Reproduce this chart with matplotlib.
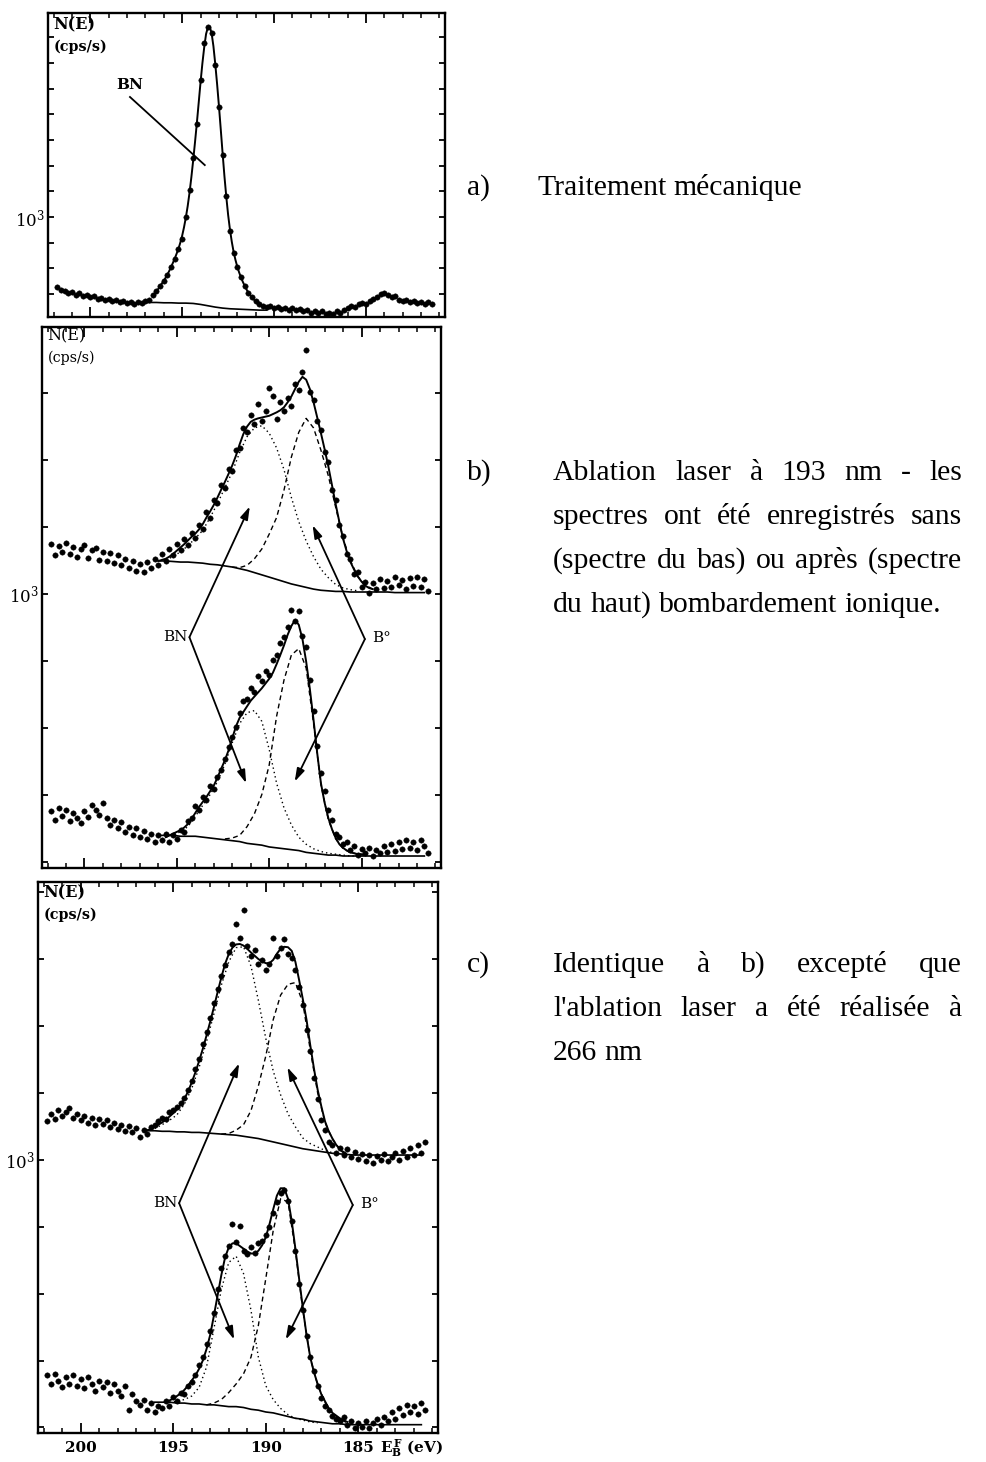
import numpy as np
import matplotlib
matplotlib.use("Agg")
import matplotlib.pyplot as plt
from matplotlib.ticker import FixedLocator, NullLocator, MultipleLocator, NullFormatter, FuncFormatter

plt.rcParams['mathtext.fontset'] = 'dejavuserif'

# ---------------- data (binding energy in eV, intensity in cps) ----------------
# energy sampling: start energy, step (eV)
DATA_START, DATA_STEP = 201.8, 0.2

# ---- panel a : mechanical treatment ----
a_data = [730, 722, 718, 712, 716, 706, 710, 702, 706, 698,
          702, 694, 697, 690, 693, 686, 690, 683, 687, 680,
          684, 678, 682, 680, 686, 690, 705, 718, 735, 752,
          770, 800, 830, 865, 905, 1000, 1130, 1300, 1520, 1850,
          2180, 2345, 2280, 1980, 1640, 1320, 1100, 940, 850, 800,
          765, 735, 712, 698, 685, 676, 670, 668, 672, 665,
          668, 663, 666, 660, 664, 658, 662, 655, 660, 652,
          657, 650, 655, 648, 652, 648, 655, 650, 660, 664,
          670, 668, 676, 680, 678, 686, 692, 700, 708, 712,
          705, 698, 702, 690, 686, 690, 682, 686, 680, 684,
          678, 682, 676]
a_fit_start, a_fit_step = 196.6, 0.1
a_fit = [700, 708, 716, 725, 734, 743, 752, 762, 773, 786,
         800, 815, 831, 849, 868, 892, 920, 955, 998, 1050,
         1115, 1195, 1290, 1400, 1525, 1670, 1830, 1990, 2140, 2270,
         2340, 2345, 2280, 2150, 1985, 1815, 1645, 1480, 1330, 1200,
         1095, 1010, 945, 895, 855, 825, 800, 780, 763, 748,
         735, 723, 713, 705, 698, 691, 685, 680, 676, 672,
         669]
a_bg_start, a_bg_step = 197.2, 0.4
a_bg = [682, 682, 682, 681, 681, 680, 680, 679, 676, 672,
        668, 665, 663, 662, 661, 660, 659, 659]

# ---- panel b : laser 193 nm, upper spectrum (after ion bombardment) ----
bt_data = [1090, 1068, 1085, 1074, 1092, 1070, 1083, 1066, 1080, 1088,
           1064, 1078, 1082, 1060, 1075, 1058, 1072, 1055, 1068, 1050,
           1062, 1045, 1058, 1040, 1052, 1038, 1056, 1045, 1062, 1050,
           1070, 1058, 1080, 1068, 1090, 1078, 1098, 1088, 1110, 1100,
           1125, 1118, 1150, 1140, 1175, 1168, 1205, 1200, 1240, 1235,
           1280, 1285, 1330, 1320, 1360, 1340, 1385, 1345, 1370, 1425,
           1405, 1350, 1390, 1370, 1400, 1380, 1435, 1420, 1465, 1520,
           1415, 1395, 1345, 1325, 1275, 1255, 1195, 1175, 1125, 1105,
           1070, 1062, 1035, 1038, 1012, 1020, 1002, 1018, 1008, 1025,
           1010, 1022, 1012, 1030, 1015, 1024, 1008, 1028, 1014, 1030,
           1012, 1026, 1005]
bt_fit_start = 196.0
bt_fit = [1058, 1060, 1062, 1066, 1071, 1077, 1083, 1089, 1096, 1103,
          1109, 1117, 1127, 1140, 1152, 1165, 1180, 1196, 1212, 1229,
          1247, 1268, 1293, 1316, 1333, 1344, 1349, 1352, 1354, 1356,
          1358, 1362, 1366, 1371, 1378, 1390, 1404, 1422, 1440, 1452,
          1445, 1422, 1390, 1354, 1318, 1282, 1245, 1205, 1166, 1131,
          1099, 1075, 1056, 1042, 1030, 1021, 1014, 1010, 1008]
bt_bg_start = 196.0
bt_bg = [1058, 1058, 1057, 1056, 1056, 1055, 1054, 1052, 1051, 1049,
         1047, 1044, 1041, 1037, 1033, 1029, 1025, 1021, 1017, 1014,
         1011, 1008, 1006, 1005, 1004, 1004, 1003, 1003, 1003, 1003,
         1003, 1003, 1002, 1002, 1002, 1002, 1002]
bt_bn_start = 195.6
bt_bn = [1060, 1066, 1075, 1086, 1100, 1115, 1140, 1168, 1200, 1233,
         1275, 1310, 1330, 1335, 1318, 1285, 1238, 1180, 1132, 1095,
         1066, 1043, 1028, 1016, 1010, 1007, 1005]
bt_b0_start = 192.0
bt_b0 = [1047, 1046, 1050, 1062, 1080, 1108, 1140, 1195, 1265, 1320,
         1352, 1330, 1280, 1225, 1160, 1100, 1058, 1030, 1015, 1008]

# ---- panel b : lower spectrum (no bombardment) ----
bb_data = [688, 678, 692, 682, 690, 676, 686, 680, 674, 688,
           681, 695, 690, 684, 698, 680, 672, 678, 668, 675,
           664, 670, 660, 668, 658, 665, 656, 662, 652, 660,
           655, 662, 652, 660, 656, 666, 664, 676, 680, 694,
           690, 705, 702, 718, 715, 730, 738, 752, 768, 782,
           795, 815, 832, 835, 850, 845, 868, 860, 875, 870,
           892, 900, 918, 928, 945, 972, 955, 970, 930, 912,
           862, 818, 770, 735, 712, 690, 678, 662, 658, 650,
           652, 644, 648, 638, 645, 640, 646, 637, 644, 640,
           648, 641, 650, 643, 652, 645, 655, 646, 652, 644,
           655, 648, 640]
bb_fit_start = 195.6
bb_fit = [658, 660, 662, 664, 666, 669, 673, 679, 686, 693,
          699, 705, 712, 719, 729, 740, 751, 764, 780, 796,
          808, 816, 824, 832, 838, 844, 850, 857, 864, 873,
          886, 900, 915, 932, 946, 956, 948, 925, 890, 849,
          805, 760, 722, 698, 680, 667, 657, 650, 646, 643,
          641, 640, 639, 639, 638]
bb_bg_start = 196.0
bb_bg = [660, 660, 660, 659, 659, 659, 658, 657, 656, 655,
         654, 653, 651, 650, 649, 647, 646, 645, 644, 643,
         641, 640, 639, 638, 638, 637, 637, 637, 637, 637,
         637, 637, 637, 637, 637, 637, 637]
bb_bn_start = 195.6
bb_bn = [658, 661, 664, 670, 682, 695, 708, 724, 746, 774,
         800, 815, 818, 803, 765, 722, 692, 672, 658, 650,
         645, 642, 640, 639, 638, 637, 637]
bb_b0_start = 192.4
bb_b0 = [656, 657, 660, 670, 685, 708, 745, 810, 862, 900,
         910, 880, 800, 720, 678, 656, 645, 641, 639, 638]

# ---- panel c : laser 266 nm, upper spectrum ----
ct_data = [1068, 1082, 1072, 1090, 1078, 1086, 1092, 1075, 1082, 1070,
           1078, 1066, 1075, 1062, 1072, 1064, 1070, 1058, 1066, 1055,
           1062, 1050, 1060, 1048, 1056, 1040, 1052, 1045, 1058, 1062,
           1068, 1075, 1072, 1085, 1090, 1095, 1102, 1112, 1128, 1145,
           1168, 1190, 1220, 1245, 1275, 1310, 1340, 1372, 1398, 1430,
           1448, 1500, 1465, 1535, 1445, 1420, 1435, 1400, 1410, 1385,
           1400, 1465, 1420, 1440, 1462, 1425, 1415, 1385, 1345, 1305,
           1250, 1205, 1150, 1110, 1070, 1052, 1030, 1025, 1012, 1020,
           1008, 1018, 1005, 1014, 1002, 1010, 998, 1008, 995, 1006,
           1000, 1010, 998, 1004, 1012, 1000, 1015, 1005, 1020, 1008,
           1025, 1012, 1030]
ct_fit_start = 196.4
ct_fit = [1052, 1054, 1058, 1062, 1066, 1071, 1077, 1083, 1090, 1099,
          1110, 1124, 1142, 1162, 1185, 1210, 1238, 1268, 1300, 1334,
          1368, 1400, 1424, 1440, 1448, 1449, 1445, 1437, 1428, 1420,
          1412, 1406, 1402, 1402, 1410, 1425, 1437, 1442, 1441, 1432,
          1405, 1362, 1318, 1272, 1218, 1170, 1128, 1096, 1068, 1050,
          1037, 1026, 1018, 1012]
ct_bg_start = 196.4
ct_bg = [1051, 1051, 1050, 1050, 1049, 1049, 1048, 1048, 1047, 1046,
         1045, 1044, 1043, 1041, 1039, 1037, 1034, 1031, 1028, 1025,
         1022, 1019, 1017, 1015, 1013, 1011, 1010, 1009, 1008, 1008,
         1008, 1008, 1008, 1008, 1008, 1008, 1008, 1008]
ct_bn_start = 196.0
ct_bn = [1055, 1062, 1070, 1080, 1100, 1130, 1172, 1225, 1285, 1350,
         1405, 1440, 1442, 1395, 1315, 1232, 1165, 1118, 1082, 1058,
         1038, 1028, 1022, 1016, 1012]
ct_b0_start = 192.4
ct_b0 = [1045, 1046, 1052, 1062, 1088, 1135, 1195, 1272, 1327, 1352,
         1356, 1310, 1208, 1122, 1066, 1036, 1018, 1010]

# ---- panel c : lower spectrum ----
cb_data = [690, 680, 692, 684, 676, 688, 680, 690, 678, 686,
           675, 688, 680, 672, 684, 676, 682, 670, 680, 672,
           666, 678, 650, 668, 660, 656, 662, 650, 658, 648,
           655, 652, 660, 655, 665, 660, 670, 668, 678, 682,
           690, 702, 712, 728, 745, 768, 800, 830, 848, 862,
           895, 868, 892, 855, 850, 860, 852, 866, 870, 878,
           890, 912, 930, 945, 950, 932, 900, 855, 808, 772,
           738, 712, 695, 678, 664, 655, 650, 644, 640, 638,
           642, 634, 638, 630, 636, 632, 638, 630, 636, 640,
           634, 642, 638, 648, 640, 652, 645, 656, 648, 655,
           646, 658, 650]
cb_fit_start = 195.4
cb_fit = [659, 661, 663, 666, 669, 673, 678, 684, 690, 698,
          708, 722, 740, 765, 792, 820, 845, 860, 866, 866,
          862, 858, 854, 851, 851, 855, 863, 875, 895, 918,
          940, 952, 952, 935, 900, 858, 815, 775, 740, 712,
          694, 680, 668, 660, 652, 647, 644, 641, 639, 637]
cb_bg_start = 196.0
cb_bg = [659, 659, 659, 658, 658, 657, 657, 656, 656, 655,
         654, 654, 653, 651, 650, 648, 647, 645, 643, 641,
         640, 638, 637, 636, 635, 635, 634, 634, 634, 634,
         634, 634, 634, 634, 634, 634, 634]
cb_bn_start = 195.2
cb_bn = [659, 660, 662, 666, 676, 700, 748, 800, 838, 847,
         822, 772, 712, 678, 662, 652, 645, 641, 639, 637, 636]
cb_b0_start = 193.2
cb_b0 = [656, 658, 662, 670, 680, 692, 712, 752, 815, 885,
         935, 930, 855, 772, 711, 679, 659, 647, 640, 636]

# axis tick labels
x_tick_labels = ["200", "195", "190", "185"]
y_label_text = r"$\mathregular{10^3}$"

# ---------------------------------------------------------------------------
W, H = 986, 1462
fig = plt.figure(figsize=(W / 100, H / 100), dpi=100)
fig.patch.set_facecolor('white')

SERIF = ['DejaVu Serif']


def grid(start, step, n):
    return np.round(start - step * np.arange(n), 3)


def axes_px(x0, y0, x1, y1):
    return fig.add_axes([x0 / W, 1 - y1 / H, (x1 - x0) / W, (y1 - y0) / H])


def setup(ax, ylo, yhi, kmin, kmax, show_x):
    ax.set_xlim(202.3, 180.7)
    ax.set_yscale('log')
    ax.set_ylim(ylo, yhi)
    ax.xaxis.set_major_locator(MultipleLocator(5))
    ax.xaxis.set_minor_locator(MultipleLocator(1))
    yt = [1000 * 10 ** (0.05 * k) for k in range(kmin, kmax + 1)]
    ax.yaxis.set_major_locator(FixedLocator(yt))
    ax.yaxis.set_minor_locator(NullLocator())
    ax.yaxis.set_major_formatter(FuncFormatter(
        lambda v, p: y_label_text if abs(v - 1000) < 1 else ''))
    ax.tick_params(which='both', direction='in', top=True, right=True, color='k')
    ax.tick_params(axis='x', which='major', length=7, width=1.3)
    ax.tick_params(axis='x', which='minor', length=3.5, width=1.1)
    ax.tick_params(axis='y', which='major', length=4.5, width=1.3, pad=2)
    for lab in ax.get_yticklabels():
        lab.set_family(SERIF)
        lab.set_fontsize(12)
    for s in ax.spines.values():
        s.set_linewidth(1.7)
    if show_x:
        ax.xaxis.set_major_formatter(FuncFormatter(
            lambda v, p: x_tick_labels[[200, 195, 190, 185].index(int(round(v)))]
            if int(round(v)) in (200, 195, 190, 185) else ''))
        ax.tick_params(axis='x', which='major', labelsize=11, pad=6)
        for lab in ax.get_xticklabels():
            lab.set_family(SERIF)
            lab.set_fontweight('bold')
    else:
        ax.xaxis.set_major_formatter(NullFormatter())


def spectrum(ax, data, fit, fit_start, fit_step, bg, bg_start, bn=None, bn_start=None,
             b0=None, b0_start=None):
    ax.plot(grid(DATA_START, DATA_STEP, len(data)), data, 'o', ms=3.9, color='k',
            mec='k', mew=0.3, ls='none', zorder=3)
    ax.plot(grid(fit_start, fit_step, len(fit)), fit, '-', color='k', lw=1.4, zorder=4)
    ax.plot(grid(bg_start, 0.4, len(bg)), bg, '-', color='k', lw=1.2, zorder=2)
    if bn is not None:
        ax.plot(grid(bn_start, 0.4, len(bn)), bn, color='k', lw=1.0,
                ls=(0, (1, 2.2)), zorder=2)
    if b0 is not None:
        ax.plot(grid(b0_start, 0.4, len(b0)), b0, color='k', lw=1.0,
                ls=(0, (3.5, 2.5)), zorder=2)


def header(ax, dy1, dy2, bold):
    w = 'bold' if bold else 'normal'
    ax.annotate('N(E)', xy=(0, 1), xycoords='axes fraction', xytext=(4, -dy1 * 0.72),
                textcoords='offset points', va='center', ha='left', fontsize=11.5,
                family=SERIF, fontweight=w)
    ax.annotate('(cps/s)', xy=(0, 1), xycoords='axes fraction', xytext=(4, -dy2 * 0.72),
                textcoords='offset points', va='center', ha='left', fontsize=10.3,
                family=SERIF, fontweight='bold' if bold else 'normal')


def arrow(ax, start, end):
    ax.annotate('', xy=end, xytext=start,
                arrowprops=dict(arrowstyle='-|>,head_length=0.55,head_width=0.17',
                                lw=1.3, color='k', shrinkA=0, shrinkB=0,
                                mutation_scale=14), zorder=5)


# ---------------- panel a ----------------
ax_a = axes_px(48, 13, 445, 317)
setup(ax_a, 639, 2494, -3, 7, False)
spectrum(ax_a, a_data, a_fit, a_fit_start, a_fit_step, a_bg, a_bg_start)
header(ax_a, 12, 34, True)
ax_a.text(197.84, 1806, 'BN', ha='center', va='center', fontsize=11,
          family=SERIF, fontweight='bold')
ax_a.plot([197.84, 193.77], [1712, 1262], color='k', lw=1.3)

# ---------------- panel b ----------------
ax_b = axes_px(42, 327, 441, 868)
setup(ax_b, 624, 1582, -4, 3, False)
spectrum(ax_b, bt_data, bt_fit, bt_fit_start, 0.2, bt_bg, bt_bg_start,
         bt_bn, bt_bn_start, bt_b0, bt_b0_start)
spectrum(ax_b, bb_data, bb_fit, bb_fit_start, 0.2, bb_bg, bb_bg_start,
         bb_bn, bb_bn_start, bb_b0, bb_b0_start)
header(ax_b, 9, 31, False)
ax_b.text(194.4, 928, 'BN', ha='right', va='center', fontsize=11, family=SERIF)
ax_b.text(184.4, 926, 'B°', ha='left', va='center', fontsize=11, family=SERIF)
arrow(ax_b, (194.32, 928), (191.05, 1162))
arrow(ax_b, (194.32, 928), (191.25, 722))
arrow(ax_b, (184.82, 925), (187.65, 1125))
arrow(ax_b, (184.82, 925), (188.62, 724))

# ---------------- panel c ----------------
ax_c = axes_px(38, 882, 438, 1433)
setup(ax_c, 625, 1612, -4, 4, True)
spectrum(ax_c, ct_data, ct_fit, ct_fit_start, 0.2, ct_bg, ct_bg_start,
         ct_bn, ct_bn_start, ct_b0, ct_b0_start)
spectrum(ax_c, cb_data, cb_fit, cb_fit_start, 0.2, cb_bg, cb_bg_start,
         cb_bn, cb_bn_start, cb_b0, cb_b0_start)
header(ax_c, 11, 33, True)
ax_c.text(194.76, 928, 'BN', ha='right', va='center', fontsize=11, family=SERIF)
ax_c.text(184.9, 926, 'B°', ha='left', va='center', fontsize=11, family=SERIF)
arrow(ax_c, (194.68, 928), (191.44, 1180))
arrow(ax_c, (194.68, 928), (191.71, 734))
arrow(ax_c, (185.3, 925), (188.83, 1172))
arrow(ax_c, (185.3, 925), (188.92, 734))

fig.text(380 / W, 1 - 1448 / H, r'$\mathbf{E_B^{\,F}}$ (eV)', ha='left', va='center',
         fontsize=11, family=SERIF, fontweight='bold')

# ---------------- right-hand captions ----------------
FS = 21.4
renderer = fig.canvas.get_renderer()


def put_line(text, x0, x1, ybase, justify):
    words = text.split(' ')
    ts = [fig.text(0, 0, w, fontsize=FS, family=['Liberation Serif'], va='baseline',
                   ha='left') for w in words]
    widths = [t.get_window_extent(renderer).width for t in ts]
    if justify and len(words) > 1:
        gap = (x1 - x0 - sum(widths)) / (len(words) - 1)
    else:
        sp = fig.text(0, 0, 'a a', fontsize=FS, family=['Liberation Serif'])
        sp2 = fig.text(0, 0, 'aa', fontsize=FS, family=['Liberation Serif'])
        gap = sp.get_window_extent(renderer).width - sp2.get_window_extent(renderer).width
        sp.remove()
        sp2.remove()
    x = x0
    for t, w in zip(ts, widths):
        t.set_position((x / W, 1 - ybase / H))
        x += w + gap


def put_label(text, x, ybase):
    fig.text(x / W, 1 - ybase / H, text, fontsize=FS, family=['Liberation Serif'],
             va='baseline', ha='left')


put_label('a)', 467, 195)
put_line('Traitement mécanique', 537, 815, 195, False)

put_label('b)', 467, 480)
put_line('Ablation laser à 193 nm - les', 553, 962, 480, True)
put_line('spectres ont été enregistrés sans', 553, 962, 524, True)
put_line('(spectre du bas) ou après (spectre', 553, 962, 568, True)
put_line('du haut) bombardement ionique.', 553, 962, 612, False)

put_label('c)', 467, 972)
put_line('Identique à b) excepté que', 553, 962, 972, True)
put_line("l'ablation laser a été réalisée à", 553, 962, 1016, True)
put_line('266 nm', 553, 962, 1060, False)

fig.savefig('out.png', dpi=100, facecolor='white')
